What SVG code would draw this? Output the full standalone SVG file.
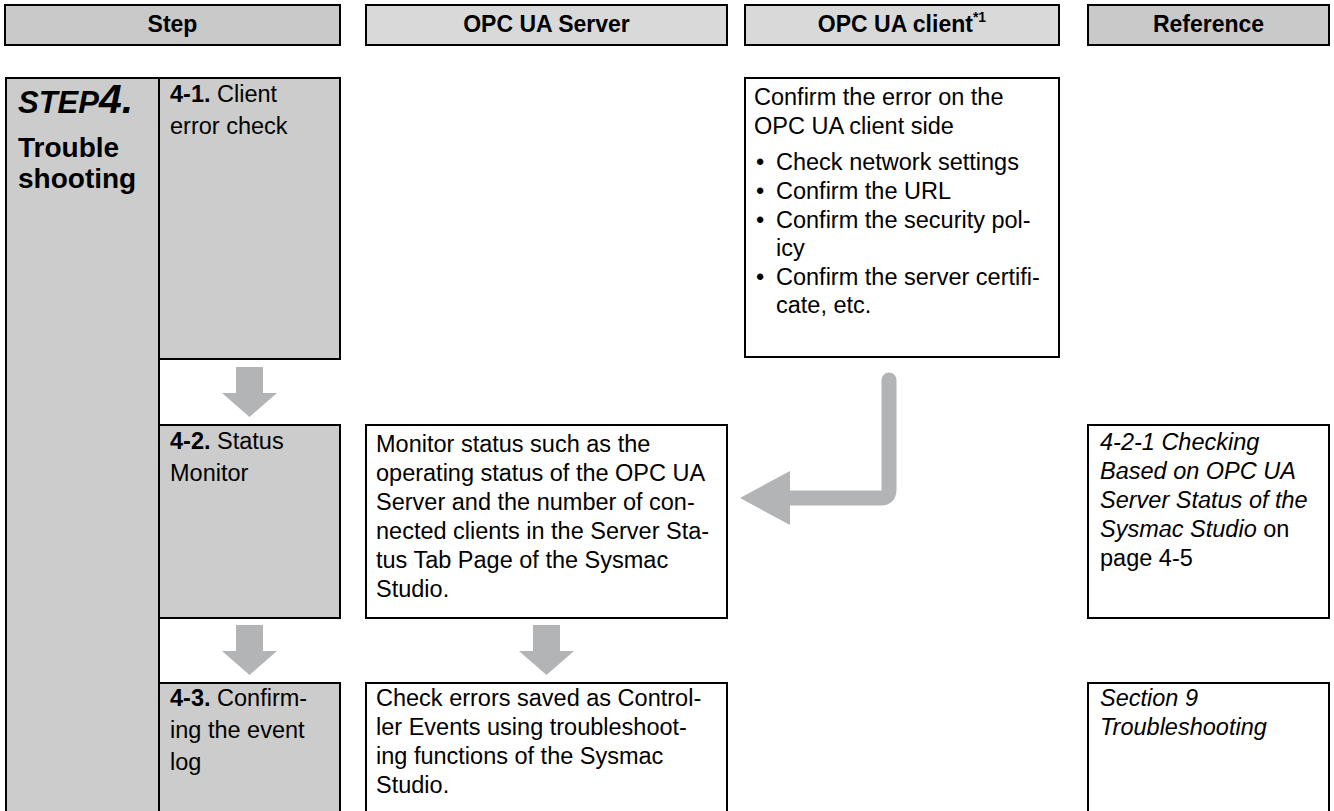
<svg xmlns="http://www.w3.org/2000/svg" width="1334" height="811" viewBox="0 0 1334 811">
<style>
.hd{stroke:#000;stroke-width:2}
.hd1{fill:#c9c9c9}
.hd2{fill:#d9d9d9}
.ht{font-family:"Liberation Sans",Arial,sans-serif;font-weight:bold;font-size:23px;fill:#000;text-anchor:middle}
.step{fill:#cccccc;stroke:#000;stroke-width:2}
.box{fill:#fff;stroke:#000;stroke-width:2}
.t{font-family:"Liberation Sans",Arial,sans-serif;font-size:23.5px;fill:#000}
.b{font-weight:bold}
.i{font-style:italic}
.arr{fill:#b3b4b6}
.carr{fill:none;stroke:#b3b4b6;stroke-width:15;stroke-linecap:round;stroke-linejoin:round}
</style>
<rect width="1334" height="811" fill="#fff"/>

<g id="headers">
  <g id="h-step"><rect class="hd hd1" x="5" y="5" width="335" height="40"/><text class="ht" x="172.5" y="32">Step</text></g>
  <g id="h-server"><rect class="hd hd2" x="366" y="5" width="361" height="40"/><text class="ht" x="546.5" y="32">OPC UA Server</text></g>
  <g id="h-client"><rect class="hd hd2" x="745" y="5" width="314" height="40"/><text class="ht" x="902" y="32">OPC UA client<tspan dy="-10" font-size="14">*1</tspan></text></g>
  <g id="h-ref"><rect class="hd hd1" x="1088" y="5" width="241" height="40"/><text class="ht" x="1208.5" y="32">Reference</text></g>
</g>

<g id="step4">
  <rect class="step" x="6" y="78" width="153" height="760"/>
  <text x="18" y="113" font-family="Liberation Sans, Arial, sans-serif" font-weight="bold" font-style="italic"><tspan font-size="31">STEP</tspan><tspan font-size="41">4.</tspan></text>
  <text x="18" y="157" font-family="Liberation Sans, Arial, sans-serif" font-weight="bold" font-size="28">Trouble</text>
  <text x="18" y="188" font-family="Liberation Sans, Arial, sans-serif" font-weight="bold" font-size="28">shooting</text>
</g>

<g id="s41">
  <rect class="step" x="159" y="78" width="181" height="281"/>
  <text class="t" x="170" y="102"><tspan class="b">4-1.</tspan> Client</text>
  <text class="t" x="170" y="134">error check</text>
</g>

<g id="s42">
  <rect class="step" x="159" y="425" width="181" height="193"/>
  <text class="t" x="170" y="449"><tspan class="b">4-2.</tspan> Status</text>
  <text class="t" x="170" y="481">Monitor</text>
</g>

<g id="s43">
  <rect class="step" x="159" y="683" width="181" height="160"/>
  <text class="t" x="170" y="706"><tspan class="b">4-3.</tspan> Confirm-</text>
  <text class="t" x="170" y="738">ing the event</text>
  <text class="t" x="170" y="770">log</text>
</g>

<g id="client">
  <rect class="box" x="745" y="78" width="314" height="279"/>
  <text class="t" x="754" y="105">Confirm the error on the</text>
  <text class="t" x="754" y="134">OPC UA client side</text>
  <text class="t" x="756" y="170">•</text><text class="t" x="776" y="170">Check network settings</text>
  <text class="t" x="756" y="199">•</text><text class="t" x="776" y="199">Confirm the URL</text>
  <text class="t" x="756" y="228">•</text><text class="t" x="776" y="228">Confirm the security pol-</text>
  <text class="t" x="776" y="256">icy</text>
  <text class="t" x="756" y="285">•</text><text class="t" x="776" y="285">Confirm the server certifi-</text>
  <text class="t" x="776" y="313">cate, etc.</text>
</g>

<g id="server1">
  <rect class="box" x="366" y="425" width="361" height="193"/>
  <text class="t" x="376" y="452">Monitor status such as the</text>
  <text class="t" x="376" y="481">operating status of the OPC UA</text>
  <text class="t" x="376" y="510">Server and the number of con-</text>
  <text class="t" x="376" y="539">nected clients in the Server Sta-</text>
  <text class="t" x="376" y="568">tus Tab Page of the Sysmac</text>
  <text class="t" x="376" y="597">Studio.</text>
</g>

<g id="server2">
  <rect class="box" x="366" y="683" width="361" height="160"/>
  <text class="t" x="376" y="706">Check errors saved as Control-</text>
  <text class="t" x="376" y="735">ler Events using troubleshoot-</text>
  <text class="t" x="376" y="764">ing functions of the Sysmac</text>
  <text class="t" x="376" y="793">Studio.</text>
</g>

<g id="ref1">
  <rect class="box" x="1088" y="425" width="241" height="193"/>
  <text class="t i" x="1100" y="450">4-2-1 Checking</text>
  <text class="t i" x="1100" y="479">Based on OPC UA</text>
  <text class="t i" x="1100" y="508">Server Status of the</text>
  <text class="t" x="1100" y="537"><tspan class="i">Sysmac Studio</tspan> on</text>
  <text class="t" x="1100" y="566">page 4-5</text>
</g>

<g id="ref2">
  <rect class="box" x="1088" y="683" width="241" height="160"/>
  <text class="t i" x="1100" y="706">Section 9</text>
  <text class="t i" x="1100" y="735">Troubleshooting</text>
</g>

<g id="connectors">
  <polygon class="arr" points="236,367 263,367 263,393 277,393 249.5,417 222,393 236,393"/>
  <polygon class="arr" points="236,625 263,625 263,651 277,651 249.5,675 222,651 236,651"/>
  <polygon class="arr" points="533,625 560,625 560,651 574,651 546.5,675 519,651 533,651"/>
  <path class="carr" d="M889,380 V490 Q889,498 881,498 H785"/>
  <polygon class="arr" points="740,498 790,471 790,525"/>
</g>
</svg>
